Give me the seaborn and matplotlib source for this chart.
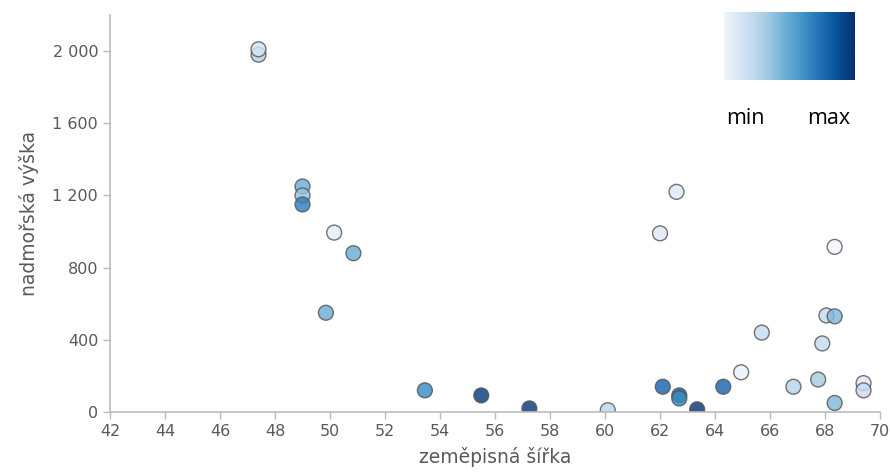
import seaborn as sns
import pandas as pd
import numpy as np
import matplotlib
matplotlib.use("Agg")
import matplotlib.pyplot as plt
from matplotlib.ticker import FuncFormatter

# latitude, altitude, relative intensity (0 = min, 1 = max)
latitude = [47.4, 47.4, 49.0, 49.0, 49.0, 50.15, 50.85, 49.85, 53.45, 55.5,
            57.25, 60.1, 62.0, 62.6, 62.1, 62.7, 62.7, 63.35, 64.3, 64.95,
            65.7, 66.85, 67.75, 67.9, 68.05, 68.35, 68.35, 68.35, 69.4, 69.4]
altitude = [1980, 2010, 1250, 1200, 1150, 994, 880, 550, 120, 92,
            20, 10, 990, 1220, 140, 92, 75, 15, 140, 220,
            440, 140, 180, 380, 535, 530, 915, 50, 160, 120]
intensity = [0.30, 0.18, 0.50, 0.40, 0.70, 0.10, 0.50, 0.50, 0.65, 0.95,
             0.95, 0.28, 0.14, 0.14, 0.80, 0.85, 0.65, 0.97, 0.80, 0.07,
             0.25, 0.30, 0.35, 0.25, 0.25, 0.45, 0.02, 0.45, 0.14, 0.24]

df = pd.DataFrame({"lat": latitude, "alt": altitude, "val": intensity})

sns.set_style("white")
plt.rcParams["font.family"] = ["DejaVu Sans"]

fig = plt.figure(figsize=(8.9, 4.74), dpi=100)
ax = fig.add_axes([0.1236, 0.1308, 0.8652, 0.8376])

sns.scatterplot(
    data=df, x="lat", y="alt", hue="val", palette="Blues", hue_norm=(0, 1),
    s=115, edgecolor="#555555", linewidth=1.0, alpha=0.82, legend=False, ax=ax,
)

grey = "#595959"
ax.set_xlim(42, 70)
ax.set_ylim(0, 2200)
ax.set_xticks(np.arange(42, 71, 2))
ax.set_yticks([0, 400, 800, 1200, 1600, 2000])
ax.yaxis.set_major_formatter(FuncFormatter(lambda v, p: f"{int(v):,}".replace(",", " ")))
ax.tick_params(axis="both", colors="#bbbbbb", labelcolor=grey, labelsize=11.5,
               length=5, width=1, direction="out", bottom=True, left=True)
for side in ["top", "right"]:
    ax.spines[side].set_visible(False)
for side in ["left", "bottom"]:
    ax.spines[side].set_color("#bbbbbb")
    ax.spines[side].set_linewidth(1.2)
ax.set_xlabel("zeměpisná šířka", color=grey, fontsize=13.5, labelpad=6)
ax.set_ylabel("nadmořská výška", color=grey, fontsize=13.5, labelpad=10)

# colour scale box
cax = fig.add_axes([724 / 890, 1 - 80 / 474, 130 / 890, 68 / 474])
gradient = np.linspace(0.05, 1, 256).reshape(1, -1)
cax.imshow(gradient, aspect="auto", cmap="Blues", vmin=0, vmax=1)
cax.set_axis_off()
fig.text(745 / 890, 1 - 119 / 474, "min", ha="center", va="center",
         fontsize=15.5, family=["Open Sans", "DejaVu Sans"], color="black")
fig.text(829 / 890, 1 - 119 / 474, "max", ha="center", va="center",
         fontsize=15.5, family=["Open Sans", "DejaVu Sans"], color="black")

fig.savefig("out.png", dpi=100)
